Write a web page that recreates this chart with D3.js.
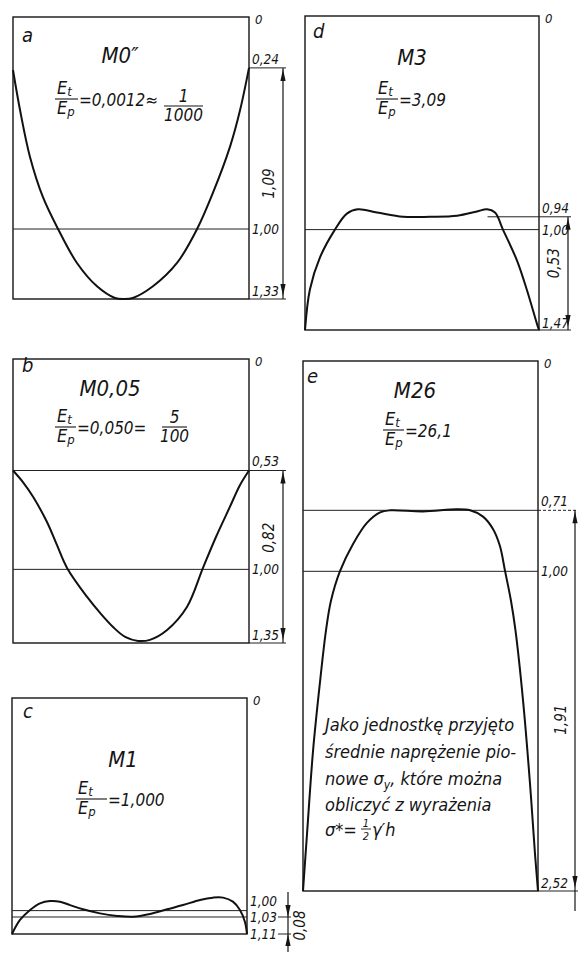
<!DOCTYPE html>
<html>
<head>
<meta charset="utf-8">
<script src="https://cdn.jsdelivr.net/npm/d3@7"></script>
<style>
body { margin: 0; background: #fff; }
svg text { font-family: "Liberation Sans Narrow", "DejaVu Sans Condensed", sans-serif; font-style: italic; fill: #151515; }
</style>
</head>
<body>
<svg id="chart" width="578" height="955"></svg>
<script>
// vertical stress profiles under a footing, 5 stiffness ratios (a..e)
var panelIds = ["a", "b", "c", "d", "e"];
var titles = ["M0\u2033", "M0,05", "M1", "M3", "M26"];
var ratios = ["=0,0012\u2248", "=0,050=", "=1,000", "=3,09", "=26,1"];
var ratioNum = ["1", "5", "", "", ""];
var ratioDen = ["1000", "100", "", "", ""];
var maxStress = [1.33, 1.35, 1.11, 1.47, 2.52];
var levels = [[0.24, 1.00, 1.33], [0.53, 1.00, 1.35], [1.00, 1.03, 1.11], [0.94, 1.00, 1.47], [0.71, 1.00, 2.52]];
var spanFrom = [0.24, 0.53, 1.03, 0.94, 0.71];
var spanTo = [1.33, 1.35, 1.11, 1.47, 2.52];
var spanText = ["1,09", "0,82", "0,08", "0,53", "1,91"];

// profiles: position across base (0..1) and stress (unit = mean stress)
var posA = [0, 0.03, 0.072, 0.127, 0.191, 0.271, 0.356, 0.432, 0.47, 0.508, 0.593, 0.695, 0.78, 0.847, 0.92, 0.962, 1];
var stressA = [0.25, 0.44, 0.66, 0.85, 1.00, 1.16, 1.27, 1.325, 1.33, 1.325, 1.27, 1.16, 1.00, 0.83, 0.61, 0.44, 0.24];
var posB = [0, 0.042, 0.085, 0.144, 0.186, 0.229, 0.314, 0.369, 0.424, 0.475, 0.53, 0.58, 0.653, 0.737, 0.805, 0.86, 0.919, 0.962, 1];
var stressB = [0.53, 0.585, 0.655, 0.775, 0.884, 0.993, 1.131, 1.207, 1.274, 1.321, 1.340, 1.335, 1.288, 1.179, 0.993, 0.846, 0.703, 0.599, 0.53];
var posC = [0, 0.034, 0.077, 0.119, 0.162, 0.204, 0.247, 0.302, 0.374, 0.447, 0.515, 0.587, 0.66, 0.728, 0.8, 0.855, 0.898, 0.94, 0.97, 0.991, 1];
var stressC = [1.11, 1.044, 0.997, 0.966, 0.955, 0.958, 0.974, 0.994, 1.013, 1.025, 1.029, 1.016, 0.994, 0.974, 0.950, 0.939, 0.939, 0.958, 0.997, 1.052, 1.11];
var posD = [0, 0.021, 0.064, 0.128, 0.179, 0.226, 0.308, 0.419, 0.534, 0.65, 0.735, 0.778, 0.812, 0.846, 0.906, 0.949, 0.991, 1];
var stressD = [1.47, 1.28, 1.13, 1.00, 0.925, 0.905, 0.92, 0.94, 0.94, 0.935, 0.915, 0.905, 0.92, 1.00, 1.145, 1.285, 1.44, 1.47];
var posE = [0, 0.017, 0.043, 0.072, 0.098, 0.119, 0.157, 0.213, 0.272, 0.328, 0.37, 0.511, 0.655, 0.711, 0.766, 0.809, 0.838, 0.86, 0.885, 0.904, 0.936, 0.966, 0.987, 1];
var stressE = [2.52, 2.25, 1.85, 1.53, 1.28, 1.14, 1.00, 0.87, 0.77, 0.72, 0.71, 0.715, 0.705, 0.71, 0.74, 0.80, 0.88, 1.00, 1.14, 1.28, 1.61, 2.01, 2.34, 2.52];

var noteLines = ["Jako jednostk\u0119 przyj\u0119to", "\u015brednie napr\u0119\u017cenie pio-", "nowe \u03c3", "obliczy\u0107 z wyra\u017cenia"];

var positions = [posA, posB, posC, posD, posE];
var stresses = [stressA, stressB, stressC, stressD, stressE];

// page layout of each panel box
var boxes = [
    {x0: 13, x1: 249, y0: 17, y1: 299},
    {x0: 13, x1: 249, y0: 359, y1: 643},
    {x0: 12, x1: 247, y0: 698, y1: 934},
    {x0: 305, x1: 539, y0: 16, y1: 330},
    {x0: 303, x1: 538, y0: 361, y1: 891}
];
var titleAt = [[120, 63], [110, 396], [123, 767], [412, 65], [415, 398]];
var fracAt = [[55, 99, 23], [55, 427, 21], [76, 799, 31], [376, 99, 22], [383, 430, 21]];
var fracRight = [[164, 106, 39], [162, 427, 25], null, null, null];
var letterAt = [[22, 42], [22, 372], [23, 718], [313, 38], [307, 383]];
var dimOffset = [34, 34, 41, 29, 37];
var spanLabelT = [0.5, 0.39, 0.5, 0.41, 0.55];
var labelDy = [[-4, 5, -3], [-4, 5, -3], [-5, 5, 5], [-4, 5, -2], [-4, 5, -3]];
var insideStart = [[null, 0], [0, 0], [0, 0], [0.78, 0], [0, 0]];

var fmt = function (v) { return d3.format(".2f")(v).replace(".", ","); };

var svg = d3.select("#chart");

function arrow(g, x, yTip, dir) {
    // dir = 1 points down, -1 points up
    g.append("path")
        .attr("d", "M" + x + "," + yTip + "L" + (x - 2.6) + "," + (yTip - dir * 12) +
            "L" + (x + 2.6) + "," + (yTip - dir * 12) + "Z")
        .attr("fill", "#151515");
}

function fracE(g, x, yBar, w) {
    g.append("line")
        .attr("x1", x).attr("x2", x + w).attr("y1", yBar).attr("y2", yBar)
        .attr("stroke", "#151515").attr("stroke-width", 1.1);
    var n = g.append("text").attr("x", x + 2).attr("y", yBar - 5).attr("font-size", 18);
    n.append("tspan").text("E");
    n.append("tspan").attr("font-size", 13).attr("dy", 2).text("t");
    var d = g.append("text").attr("x", x + 2).attr("y", yBar + 15).attr("font-size", 18);
    d.append("tspan").text("E");
    d.append("tspan").attr("font-size", 13).attr("dy", 2).text("p");
}

panelIds.forEach(function (id, i) {
    var b = boxes[i];
    var g = svg.append("g").attr("class", "panel-" + id);

    var x = d3.scaleLinear().domain([0, 1]).range([b.x0, b.x1]);
    var y = d3.scaleLinear().domain([0, maxStress[i]]).range([b.y0, b.y1]);
    var dimX = x(1) + dimOffset[i];

    // frame
    g.append("rect")
        .attr("x", x(0)).attr("y", y(0))
        .attr("width", x(1) - x(0)).attr("height", y(maxStress[i]) - y(0))
        .attr("fill", "none").attr("stroke", "#151515").attr("stroke-width", 1.4);

    // reference levels inside the box
    levels[i].forEach(function (lv, j) {
        if (j < 2 && insideStart[i][j] !== null && lv !== maxStress[i]) {
            g.append("line")
                .attr("x1", x(insideStart[i][j])).attr("x2", x(1))
                .attr("y1", y(lv)).attr("y2", y(lv))
                .attr("stroke", "#222").attr("stroke-width", 1);
        }
        g.append("text")
            .attr("x", x(1) + 3).attr("y", y(lv) + labelDy[i][j])
            .attr("font-size", 13.5)
            .text(fmt(lv));
    });

    // extension lines to the dimension line
    [spanFrom[i], spanTo[i]].forEach(function (lv) {
        var xs = id === "c" ? dimX - 10 : x(1);
        g.append("line")
            .attr("x1", xs).attr("x2", dimX + 3)
            .attr("y1", y(lv)).attr("y2", y(lv))
            .attr("stroke", "#222").attr("stroke-width", 1)
            .attr("stroke-dasharray", id === "e" && lv === spanFrom[i] ? "3,2" : null);
    });

    // dimension line
    var yMid = y(spanFrom[i]) + spanLabelT[i] * (y(spanTo[i]) - y(spanFrom[i]));
    if (id === "c") {
        g.append("line").attr("x1", dimX).attr("x2", dimX)
            .attr("y1", y(spanFrom[i]) - 25).attr("y2", y(spanTo[i]) + 18)
            .attr("stroke", "#151515").attr("stroke-width", 1.2);
        arrow(g, dimX, y(spanFrom[i]), 1);
        arrow(g, dimX, y(spanTo[i]), -1);
        g.append("text")
            .attr("transform", "translate(" + (dimX + 12) + "," + yMid + ") rotate(-90)")
            .attr("text-anchor", "middle").attr("dy", "0.35em")
            .attr("font-size", 15).text(spanText[i]);
    } else {
        var yEnd = id === "e" ? y(spanTo[i]) + 20 : y(spanTo[i]);
        g.append("line").attr("x1", dimX).attr("x2", dimX)
            .attr("y1", y(spanFrom[i])).attr("y2", yEnd)
            .attr("stroke", "#151515").attr("stroke-width", 1.2);
        arrow(g, dimX, y(spanFrom[i]) + 1, -1);
        arrow(g, dimX, y(spanTo[i]) - 3, 1);
        g.append("text")
            .attr("transform", "translate(" + (dimX - 14) + "," + yMid + ") rotate(-90)")
            .attr("text-anchor", "middle").attr("dy", "0.35em")
            .attr("font-size", 15).text(spanText[i]);
    }

    // zero level
    g.append("text").attr("x", x(1) + 6).attr("y", y(0) + 7)
        .attr("font-size", 13).text("0");

    // stress profile
    var pts = positions[i].map(function (p, k) { return [p, stresses[i][k]]; });
    g.append("path")
        .datum(pts)
        .attr("fill", "none").attr("stroke", "#111").attr("stroke-width", 2)
        .attr("d", d3.line()
            .x(function (d) { return x(d[0]); })
            .y(function (d) { return y(d[1]); })
            .curve(d3.curveCatmullRom.alpha(0.5)));

    // panel letter and title
    g.append("text").attr("x", letterAt[i][0]).attr("y", letterAt[i][1])
        .attr("font-size", 20).text(id);
    g.append("text").attr("x", titleAt[i][0]).attr("y", titleAt[i][1])
        .attr("text-anchor", "middle").attr("font-size", 22).text(titles[i]);

    // stiffness ratio Et/Ep
    var f = fracAt[i];
    fracE(g, f[0], f[1], f[2]);
    g.append("text").attr("x", f[0] + f[2] + 1).attr("y", f[1] + 7)
        .attr("font-size", 17).text(ratios[i]);
    if (fracRight[i]) {
        var r = fracRight[i];
        g.append("line").attr("x1", r[0]).attr("x2", r[0] + r[2])
            .attr("y1", r[1]).attr("y2", r[1])
            .attr("stroke", "#151515").attr("stroke-width", 1.1);
        g.append("text").attr("x", r[0] + r[2] / 2).attr("y", r[1] - 4)
            .attr("text-anchor", "middle").attr("font-size", 17).text(ratioNum[i]);
        g.append("text").attr("x", r[0] + r[2] / 2).attr("y", r[1] + 15)
            .attr("text-anchor", "middle").attr("font-size", 17).text(ratioDen[i]);
    }
});

// note inside panel e
var note = svg.append("g").attr("class", "note");
var noteY = [731, 758, 785, 811];
noteLines.forEach(function (t, k) {
    var tx = note.append("text").attr("x", 325).attr("y", noteY[k]).attr("font-size", 18);
    tx.append("tspan").text(t);
    if (k === 2) {
        tx.append("tspan").attr("font-size", 12).attr("dy", 4).text("y");
        tx.append("tspan").attr("dy", -4).text(", kt\u00f3re mo\u017cna");
    }
});
var last = note.append("text").attr("x", 325).attr("y", 836).attr("font-size", 18);
last.append("tspan").text("\u03c3*=");
note.append("text").attr("x", 366).attr("y", 827).attr("font-size", 11).attr("text-anchor", "middle").text("1");
note.append("line").attr("x1", 361).attr("x2", 371).attr("y1", 829).attr("y2", 829)
    .attr("stroke", "#151515").attr("stroke-width", 0.9);
note.append("text").attr("x", 366).attr("y", 840).attr("font-size", 11).attr("text-anchor", "middle").text("2");
note.append("text").attr("x", 372).attr("y", 836).attr("font-size", 18).text("\u03b3\u2032h");
</script>
</body>
</html>
